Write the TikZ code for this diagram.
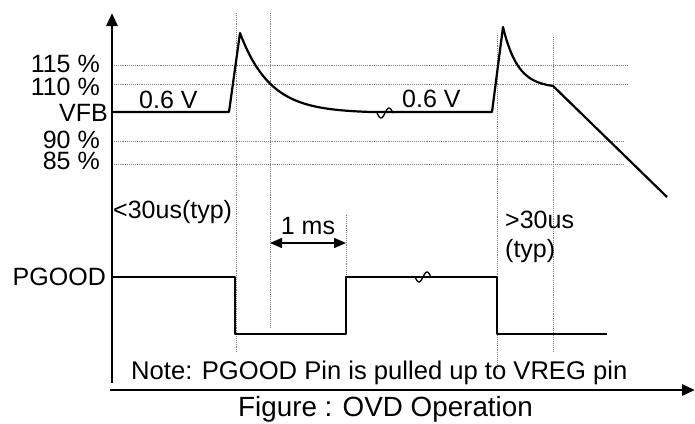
\documentclass[tikz,border=0pt]{standalone}
\usepackage{fontspec}
\setmainfont{Liberation Sans}
\usetikzlibrary{arrows.meta}
\begin{document}
\begin{tikzpicture}[x=1pt,y=-1pt,
  grid/.style={densely dotted, gray, line width=0.9pt},
  wave/.style={line width=2.2pt, line join=round},
  axisline/.style={line width=2.8pt},
  squig/.style={line width=1.3pt},
  lbl/.style={inner sep=0pt, font=\fontsize{25}{30}\selectfont},
  notelbl/.style={inner sep=0pt, font=\fontsize{25.6}{30}\selectfont},
  caplbl/.style={inner sep=0pt, font=\fontsize{27.8}{30}\selectfont},
  tipA/.tip={Triangle[width=11pt,length=13pt]},
  tipB/.tip={Triangle[width=10pt,length=12pt]},
]
\useasboundingbox (0,0) rectangle (695,423);

% dotted grid
\draw[grid] (112,65) -- (627,65);
\draw[grid] (112,84) -- (627,84);
\draw[grid] (112,141) -- (624,141);
\draw[grid] (112,164) -- (624,164);
\draw[grid] (236,13) -- (236,352);
\draw[grid] (270,13) -- (270,328);
\draw[grid] (346,215) -- (346,277);
\draw[grid] (497,35) -- (497,368);
\draw[grid] (553,37) -- (553,352);

% axes
\coordinate (yb) at (112,383);
\coordinate (yt) at (112,13);
\coordinate (xl) at (110,390);
\coordinate (xr) at (695,390);
\draw[axisline,-tipA] (yb) -- (yt);
\draw[axisline,-tipA] (xl) -- (xr);

% VFB waveform
\draw[wave] (112,112) -- (229,112) -- (240,33)
  -- plot[domain=240:373,samples=60] (\x,{113-80*exp(-(\x-240)/30)})
  -- (492,112) -- (503,27)
  -- plot[domain=503:553,samples=40] (\x,{88-61*exp(-(\x-503)/14.8)})
  -- (667,197);
\draw[squig] plot[domain=377:393,samples=30] (\x,{113+5*sin((\x-377)*22.5)});

% PGOOD waveform
\draw[wave] (112,277) -- (235,277) -- (235,334) -- (346,334) -- (346,277)
  -- (497,277) -- (497,334) -- (607,334);
\draw[squig] plot[domain=415:431,samples=30] (\x,{277+5*sin((\x-415)*22.5)});

% 1 ms arrow
\coordinate (ma) at (270,243);
\coordinate (mb) at (346,243);
\draw[line width=1.5pt, tipB-tipB] (ma) -- (mb);

% labels
\node[lbl, anchor=east] (l115) at (100,64) {115 \%};
\node[lbl, anchor=east] (l110) at (100,87) {110 \%};
\node[lbl, anchor=east] (lvfb) at (108,112.5) {VFB};
\node[lbl, anchor=east] (l90) at (100,139.5) {90 \%};
\node[lbl, anchor=east] (l85) at (100,160.5) {85 \%};
\node[lbl, anchor=east] (lpg) at (106,277) {PGOOD};
\node[lbl, anchor=base west] (v1) at (139,108) {0.6 V};
\node[lbl, anchor=base west] (v2) at (402,107) {0.6 V};
\node[lbl, anchor=base west] (t1) at (113,218) {<30us(typ)};
\node[lbl, anchor=base west] (t2) at (505,228) {>30us};
\node[lbl, anchor=base west] (t3) at (505,257) {(typ)};
\node[lbl, anchor=base] (ms) at (308,234) {1 ms};
\node[notelbl, anchor=base west] (note) at (131,379) {Note: PGOOD Pin is pulled up to VREG pin};
\node[caplbl, anchor=base] (cap) at (385.5,416) {Figure : OVD Operation};
\end{tikzpicture}
\end{document}
